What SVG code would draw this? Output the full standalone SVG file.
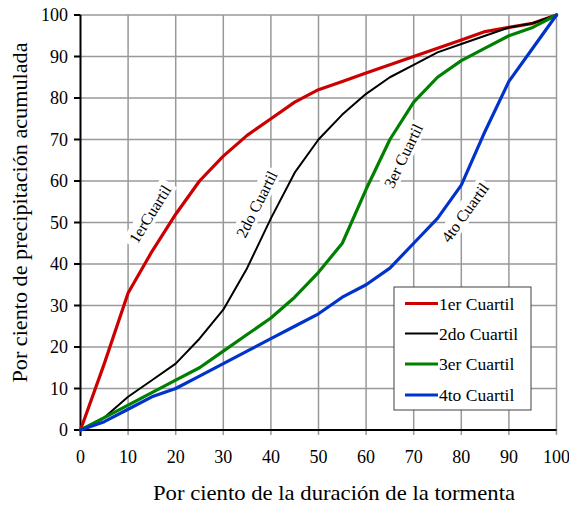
<svg xmlns="http://www.w3.org/2000/svg" width="569" height="505" viewBox="0 0 569 505" font-family="'Liberation Serif', Tinos, 'Times New Roman', Times, serif">
<style>
text{font-family:"Liberation Serif",Tinos,"Times New Roman",Times,serif;fill:#000}
.grid line{stroke:#999;stroke-width:1.5}
.axis{stroke:#000;stroke-width:2;fill:none}
.tick{font-size:18px}
.title{font-size:22px}
.lbl{font-size:16px}
.lbg{fill:#fff}
.leg{font-size:17.5px}
.c{fill:none;stroke-linejoin:round;stroke-linecap:round}
.r{stroke:#cc0000;stroke-width:3.2}
.k{stroke:#000;stroke-width:2}
.g{stroke:#008000;stroke-width:3.2}
.b{stroke:#0033cc;stroke-width:3.2}
</style>
<rect width="569" height="505" fill="#fff"/>
<g id="grid" class="grid">
<line x1="128.1" y1="15" x2="128.1" y2="435"/>
<line x1="175.7" y1="15" x2="175.7" y2="435"/>
<line x1="223.3" y1="15" x2="223.3" y2="435"/>
<line x1="270.9" y1="15" x2="270.9" y2="435"/>
<line x1="318.5" y1="15" x2="318.5" y2="435"/>
<line x1="366.1" y1="15" x2="366.1" y2="435"/>
<line x1="413.7" y1="15" x2="413.7" y2="435"/>
<line x1="461.3" y1="15" x2="461.3" y2="435"/>
<line x1="508.9" y1="15" x2="508.9" y2="435"/>
<line x1="556.5" y1="15" x2="556.5" y2="435"/>
<line x1="80.5" y1="388.5" x2="556.5" y2="388.5"/>
<line x1="80.5" y1="347" x2="556.5" y2="347"/>
<line x1="80.5" y1="305.5" x2="556.5" y2="305.5"/>
<line x1="80.5" y1="264" x2="556.5" y2="264"/>
<line x1="80.5" y1="222.5" x2="556.5" y2="222.5"/>
<line x1="80.5" y1="181" x2="556.5" y2="181"/>
<line x1="80.5" y1="139.5" x2="556.5" y2="139.5"/>
<line x1="80.5" y1="98" x2="556.5" y2="98"/>
<line x1="80.5" y1="56.5" x2="556.5" y2="56.5"/>
<line x1="80.5" y1="15" x2="556.5" y2="15"/>
</g>
<g id="axes">
<path class="axis" d="M80.5 15V430H556.5"/>
<path class="axis" d="M74 15H80.5M74 56.5H80.5M74 98H80.5M74 139.5H80.5M74 181H80.5M74 222.5H80.5M74 264H80.5M74 305.5H80.5M74 347H80.5M74 388.5H80.5M74 430H80.5M80.5 430V436"/>
</g>
<g id="ytick-labels" class="tick" text-anchor="end">
<text x="68" y="21">100</text>
<text x="68" y="62.5">90</text>
<text x="68" y="104">80</text>
<text x="68" y="145.5">70</text>
<text x="68" y="187">60</text>
<text x="68" y="228.5">50</text>
<text x="68" y="270">40</text>
<text x="68" y="311.5">30</text>
<text x="68" y="353">20</text>
<text x="68" y="394.5">10</text>
<text x="68" y="436">0</text>
</g>
<g id="xtick-labels" class="tick" text-anchor="middle">
<text x="80.5" y="463">0</text>
<text x="128.1" y="463">10</text>
<text x="175.7" y="463">20</text>
<text x="223.3" y="463">30</text>
<text x="270.9" y="463">40</text>
<text x="318.5" y="463">50</text>
<text x="366.1" y="463">60</text>
<text x="413.7" y="463">70</text>
<text x="461.3" y="463">80</text>
<text x="508.9" y="463">90</text>
<text x="556.5" y="463">100</text>
</g>
<text id="x-title" class="title" x="334" y="500" text-anchor="middle" textLength="362" lengthAdjust="spacingAndGlyphs">Por ciento de la duración de la tormenta</text>
<text id="y-title" class="title" transform="translate(27,212.5) rotate(-90)" x="0" y="0" text-anchor="middle" textLength="340" lengthAdjust="spacingAndGlyphs">Por ciento de precipitación acumulada</text>
<g id="curve-labels" class="lbl" text-anchor="middle">
<g id="label-1" transform="translate(150,214) rotate(-58)"><rect class="lbg" x="-37" y="-10" width="74" height="19"/><text x="0" y="5.5">1erCuartil</text></g>
<g id="label-2" transform="translate(256.7,204.2) rotate(-63)"><rect class="lbg" x="-39" y="-10" width="78" height="19"/><text x="0" y="5.5">2do Cuartil</text></g>
<g id="label-3" transform="translate(403.3,155.8) rotate(-64)"><rect class="lbg" x="-37" y="-10" width="74" height="19"/><text x="0" y="5.5">3er Cuartil</text></g>
<g id="label-4" transform="translate(465,212.5) rotate(-54)"><rect class="lbg" x="-37" y="-10" width="74" height="19"/><text x="0" y="5.5">4to Cuartil</text></g>
</g>
<g id="connectors">
<polyline id="q1" class="c r" points="80.5,430 104.3,363.6 128.1,293.05 151.9,251.55 175.7,214.2 199.5,181 223.3,156.1 247.1,135.35 270.9,118.75 294.7,102.15 318.5,89.7 342.3,81.4 366.1,73.1 389.9,64.8 413.7,56.5 437.5,48.2 461.3,39.9 485.1,31.6 508.9,27.45 532.7,23.3 556.5,15"/>
<polyline id="q2" class="c k" points="80.5,430 104.3,417.55 128.1,396.8 151.9,380.2 175.7,363.6 199.5,338.7 223.3,309.65 247.1,268.15 270.9,218.35 294.7,172.7 318.5,139.5 342.3,114.6 366.1,93.85 389.9,77.25 413.7,64.8 437.5,52.35 461.3,44.05 485.1,35.75 508.9,27.45 532.7,23.3 556.5,15"/>
<polyline id="q3" class="c g" points="80.5,430 104.3,417.55 128.1,405.1 151.9,392.65 175.7,380.2 199.5,367.75 223.3,351.15 247.1,334.55 270.9,317.95 294.7,297.2 318.5,272.3 342.3,243.25 366.1,189.3 389.9,139.5 413.7,102.15 437.5,77.25 461.3,60.65 485.1,48.2 508.9,35.75 532.7,27.45 556.5,15"/>
<polyline id="q4" class="c b" points="80.5,430 104.3,421.7 128.1,409.25 151.9,396.8 175.7,388.5 199.5,376.05 223.3,363.6 247.1,351.15 270.9,338.7 294.7,326.25 318.5,313.8 342.3,297.2 366.1,284.75 389.9,268.15 413.7,243.25 437.5,218.35 461.3,185.15 485.1,131.2 508.9,81.4 532.7,48.2 556.5,15"/>
</g>
<g id="legend">
<rect x="394" y="287" width="137" height="123" fill="#fff" stroke="#404040" stroke-width="1"/>
<line class="r" x1="405" y1="303.5" x2="438" y2="303.5"/>
<line class="k" x1="405" y1="333.5" x2="438" y2="333.5"/>
<line class="g" x1="405" y1="364" x2="438" y2="364"/>
<line class="b" x1="405" y1="395" x2="438" y2="395"/>
<g class="leg">
<text x="439" y="309.5">1er Cuartil</text>
<text x="439" y="339.5">2do Cuartil</text>
<text x="439" y="370">3er Cuartil</text>
<text x="439" y="401">4to Cuartil</text>
</g>
</g>
</svg>
